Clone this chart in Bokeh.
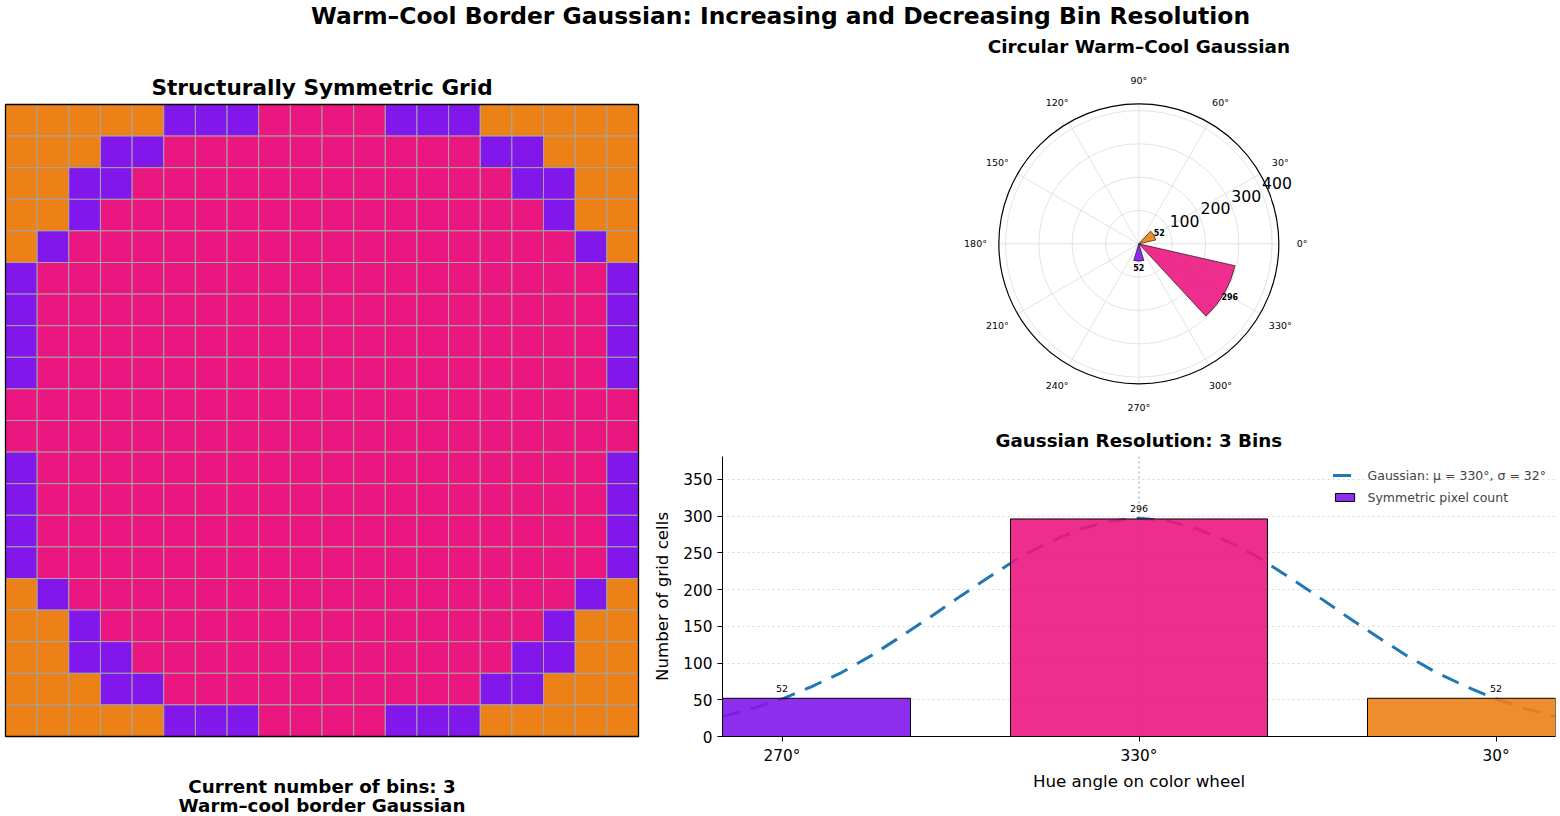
import math
from bokeh.plotting import figure
from bokeh.layouts import column, row
from bokeh.models import (Range1d, FixedTicker, Span, Legend, LegendItem,
                          ColumnDataSource)
from bokeh.core.properties import value
from bokeh.embed import file_html
from bokeh.resources import INLINE

FONT = "DejaVu Sans"

# ---------------- data ----------------
main_title = "Warm–Cool Border Gaussian: Increasing and Decreasing Bin Resolution"
grid_title = "Structurally Symmetric Grid"
polar_title = "Circular Warm–Cool Gaussian"
bar_title = "Gaussian Resolution: 3 Bins"
caption_lines = ["Current number of bins: 3", "Warm–cool border Gaussian"]

# 20x20 grid, top row first: O = orange (30°), P = purple (270°), M = magenta (330°)
grid_rows = [
    "OOOOOPPPMMMMPPPOOOOO",
    "OOOPPMMMMMMMMMMPPOOO",
    "OOPPMMMMMMMMMMMMPPOO",
    "OOPMMMMMMMMMMMMMMPOO",
    "OPMMMMMMMMMMMMMMMMPO",
    "PMMMMMMMMMMMMMMMMMMP",
    "PMMMMMMMMMMMMMMMMMMP",
    "PMMMMMMMMMMMMMMMMMMP",
    "PMMMMMMMMMMMMMMMMMMP",
    "MMMMMMMMMMMMMMMMMMMM",
    "MMMMMMMMMMMMMMMMMMMM",
    "PMMMMMMMMMMMMMMMMMMP",
    "PMMMMMMMMMMMMMMMMMMP",
    "PMMMMMMMMMMMMMMMMMMP",
    "PMMMMMMMMMMMMMMMMMMP",
    "OPMMMMMMMMMMMMMMMMPO",
    "OOPMMMMMMMMMMMMMMPOO",
    "OOPPMMMMMMMMMMMMPPOO",
    "OOOPPMMMMMMMMMMPPOOO",
    "OOOOOPPPMMMMPPPOOOOO",
]
cell_colors = {"O": "#EB8117", "P": "#8117EB", "M": "#EB1781"}

hue_angles = [270, 330, 30]          # bin centres on the wheel (deg)
bar_positions = [270, 330, 390]      # unwrapped positions on the bar axis
hue_labels = ["270°", "330°", "30°"]
counts = [52, 296, 52]
bin_colors = ["#8117EB", "#EB1781", "#EB8117"]
wedge_width_deg = 34.4
bar_width_deg = 43.2

gauss_x = [260, 265, 270, 275, 280, 285, 290, 295, 300, 305, 310, 315, 320, 325, 330,
           335, 340, 345, 350, 355, 360, 365, 370, 375, 380, 385, 390, 395, 400]
gauss_y = [27, 38, 51, 68, 87, 110, 136, 163, 191, 218, 244, 265, 282, 293, 297,
           293, 282, 265, 244, 218, 191, 163, 136, 110, 87, 68, 51, 38, 27]
gauss_label = "Gaussian: μ = 330°, σ = 32°"
count_label = "Symmetric pixel count"

r_ticks = [100, 200, 300, 400]
r_max = 420
theta_ticks = [0, 30, 60, 90, 120, 150, 180, 210, 240, 270, 300, 330]
y_ticks = [0, 50, 100, 150, 200, 250, 300, 350]
y_max = 381


def blank(w, h, xr, yr):
    p = figure(width=w, height=h, x_range=Range1d(*xr), y_range=Range1d(*yr),
               x_axis_location=None, y_axis_location=None, toolbar_location=None,
               output_backend="svg", min_border=0, outline_line_color=None,
               frame_align=False)
    p.grid.visible = False
    return p


def txt(p, x, y, t, size, bold=False, align="center", baseline="middle"):
    p.text(x=x, y=y, text=t, text_font=value(FONT), text_font_size=size,
           text_font_style="bold" if bold else "normal", text_align=align,
           text_baseline=baseline, text_color="black")


# ---------------- overall title ----------------
pt = blank(1560, 32, (0, 1560), (0, 32))
txt(pt, [780], [17], [main_title], "23.4px", bold=True)

# ---------------- grid panel ----------------
n = len(grid_rows)
pg = blank(640, 784, (-0.158, 20.063), (-2.532, 22.278))
xs, ys, cs = [], [], []
for r, line in enumerate(grid_rows):
    for c, ch in enumerate(line):
        xs.append(c + 0.5)
        ys.append(n - 1 - r + 0.5)
        cs.append(cell_colors[ch])
pg.rect(x=xs, y=ys, width=1, height=1, fill_color=cs, line_color="#a4a4a4",
        line_width=1)
pg.rect(x=[n / 2], y=[n / 2], width=n, height=n, fill_color=None,
        line_color="black", line_width=1.3)
txt(pg, [n / 2], [20.538], [grid_title], "21.6px", bold=True)
txt(pg, [n / 2, n / 2], [-1.58, -2.18], caption_lines, "18.3px", bold=True)

# ---------------- polar panel ----------------
pp = blank(920, 420, (-1495, 1265), (-626, 634))
pp.circle(x=[0] * len(r_ticks), y=[0] * len(r_ticks), radius=r_ticks,
          fill_color=None, line_color="#dcdcdc", line_width=0.8)
pp.segment(x0=[0] * len(theta_ticks), y0=[0] * len(theta_ticks),
           x1=[r_max * math.cos(math.radians(a)) for a in theta_ticks],
           y1=[r_max * math.sin(math.radians(a)) for a in theta_ticks],
           line_color="#dcdcdc", line_width=0.8)
pp.wedge(x=[0] * 3, y=[0] * 3, radius=counts,
         start_angle=[math.radians(a - wedge_width_deg / 2) for a in hue_angles],
         end_angle=[math.radians(a + wedge_width_deg / 2) for a in hue_angles],
         fill_color=bin_colors, fill_alpha=0.9, line_color="black", line_width=0.6)
pp.circle(x=[0], y=[0], radius=[r_max], fill_color=None, line_color="black",
          line_width=1.2)
txt(pp, [490 * math.cos(math.radians(a)) for a in theta_ticks],
    [490 * math.sin(math.radians(a)) for a in theta_ticks],
    [f"{a}°" for a in theta_ticks], "9.5px")
txt(pp, [r * math.cos(math.radians(22.5)) for r in r_ticks],
    [r * math.sin(math.radians(22.5)) + 12 for r in r_ticks],
    [str(r) for r in r_ticks], "15.7px", align="left", baseline="bottom")
txt(pp, [(c + 19) * math.cos(math.radians(a)) for a, c in zip(hue_angles, counts)],
    [(c + 19) * math.sin(math.radians(a)) for a, c in zip(hue_angles, counts)],
    [str(c) for c in counts], "8px", bold=True)
txt(pp, [0], [592], [polar_title], "18.4px", bold=True)
txt(pp, [0], [-590], [bar_title], "18.3px", bold=True)

# ---------------- bar panel ----------------
pb = figure(width=920, height=364, x_range=Range1d(260, 400),
            y_range=Range1d(0, y_max), toolbar_location=None, output_backend="svg",
            min_border_left=82, min_border_right=5, min_border_top=4,
            min_border_bottom=80, outline_line_color=None, frame_align=False)
pb.xgrid.visible = False
pb.yaxis.ticker = FixedTicker(ticks=y_ticks)
pb.xaxis.ticker = FixedTicker(ticks=bar_positions)
pb.xaxis.major_label_overrides = {p: l for p, l in zip(bar_positions, hue_labels)}
pb.ygrid.grid_line_dash = "2 3"
pb.ygrid.grid_line_color = "#cfcfcf"
pb.ygrid.grid_line_width = 0.8
for ax in (pb.xaxis[0], pb.yaxis[0]):
    ax.axis_line_color = "black"
    ax.axis_line_width = 1
    ax.major_tick_out = 5
    ax.major_tick_in = 0
    ax.major_tick_line_color = "black"
    ax.minor_tick_line_color = None
    ax.major_label_text_font = FONT
    ax.major_label_text_font_size = "15.3px"
    ax.major_label_text_color = "black"
    ax.major_label_standoff = 5
    ax.axis_label_text_font = FONT
    ax.axis_label_text_font_size = "16.7px"
    ax.axis_label_text_font_style = "normal"
    ax.axis_label_text_color = "black"
    ax.axis_label_standoff = 8
pb.xaxis.axis_label_standoff = 3
pb.xaxis.axis_label = "Hue angle on color wheel"
pb.yaxis.axis_label = "Number of grid cells"

pb.add_layout(Span(location=330, dimension="height", line_color="#1f77b4",
                   line_alpha=0.55, line_dash="2 3", line_width=1.2, level="underlay"))
line_r = pb.line(gauss_x, gauss_y, line_color="#1f77b4", line_width=3,
                 line_dash="18 11")
src = ColumnDataSource(dict(x=bar_positions, top=counts, color=bin_colors))
bar_r = pb.vbar(x="x", top="top", width=bar_width_deg, source=src,
                fill_color="color", fill_alpha=0.9, line_color="black", line_width=1)
txt(pb, bar_positions, [c + 9 for c in counts], [str(c) for c in counts], "9.5px",
    baseline="bottom")

legend = Legend(items=[LegendItem(label=gauss_label, renderers=[line_r]),
                       LegendItem(label=count_label, renderers=[bar_r], index=0)],
                location="top_right", border_line_color=None,
                background_fill_alpha=0, label_text_font=FONT,
                label_text_font_size="12.5px", glyph_width=24, glyph_height=10,
                label_height=20, spacing=2, padding=5, margin=9, label_standoff=11)
pb.add_layout(legend)

layout = column(pt, row(pg, column(pp, pb)))
open("out.html", "w").write(file_html(layout, INLINE))
